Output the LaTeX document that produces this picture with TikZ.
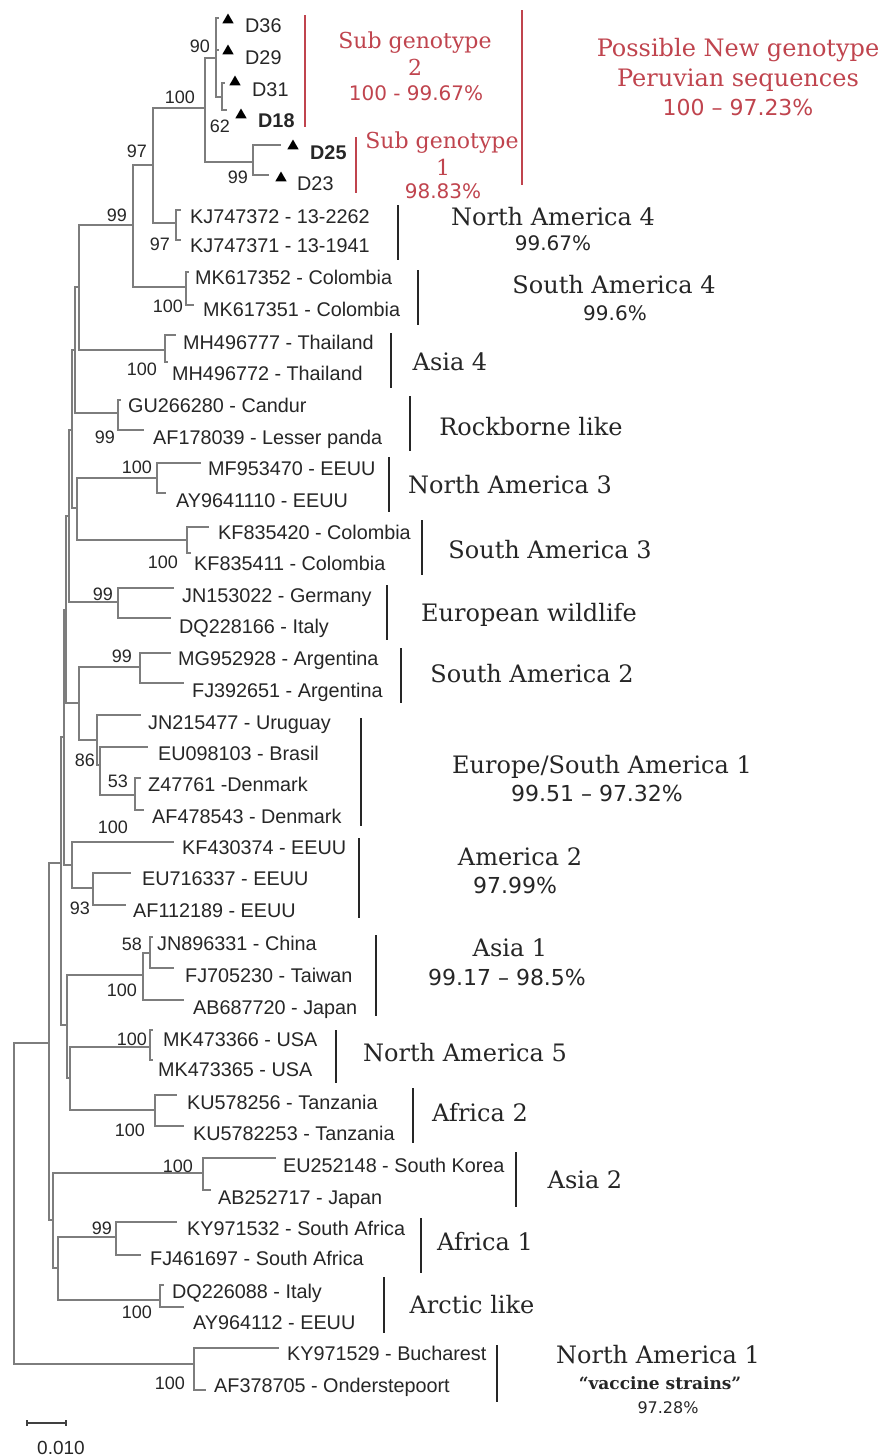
\documentclass[tikz,border=0pt]{standalone}
\usepackage{fontspec}
\setmainfont{Liberation Sans}
\newfontfamily\clfont{DejaVu Serif}
\newfontfamily\pcfont{DejaVu Sans}
\usetikzlibrary{shapes.geometric}
\definecolor{treegray}{RGB}{125,125,125}
\definecolor{subred}{RGB}{192,68,78}
\begin{document}
\begin{tikzpicture}[x=1pt,y=-1pt,
 tree/.style={draw=treegray, line width=1.6pt, line cap=rect},
 cbar/.style={draw=black!85, line width=2.6pt},
 redbar/.style={draw=subred, line width=2.6pt},
 tiplab/.style={anchor=west, inner sep=0pt, text=black!85, font=\fontsize{19.8}{22}\selectfont, text height=14pt, text depth=0pt},
 boot/.style={anchor=east, inner sep=0pt, text=black!85, font=\fontsize{18}{20}\selectfont, text height=13pt, text depth=0pt},
 clade/.style={inner sep=0pt, text=black!85, font=\clfont\fontsize{24}{28}\selectfont, text height=17.5pt, text depth=0pt},
 pct/.style={inner sep=0pt, text=black!85, font=\pcfont\fontsize{22}{26}\selectfont, text height=16pt, text depth=0pt},
 redclade/.style={clade, text=subred, font=\clfont\fontsize{22}{26}\selectfont, text height=16pt},
 redpct/.style={pct, text=subred, font=\pcfont\fontsize{20}{24}\selectfont, text height=14.5pt},
 tri/.style={regular polygon, regular polygon sides=3, fill=black, inner sep=0pt, minimum size=13pt},
]
\useasboundingbox[fill=white] (0,0) rectangle (883,1456);

% ---------- internal nodes ----------
\coordinate (R) at (14,1200);
\coordinate (A) at (49,1043);
\coordinate (U) at (61,863);
\coordinate (G4) at (64,737);
\coordinate (G3) at (66,610);
\coordinate (G2) at (69,516);
\coordinate (G1) at (72,430);
\coordinate (F) at (75,350);
\coordinate (E) at (79,287);
\coordinate (T1) at (133,225);
\coordinate (T2) at (153,165);
\coordinate (N100) at (205,108);
\coordinate (N90) at (216,58);
\coordinate (N62) at (222,97);
\coordinate (N99b) at (253,162);
\coordinate (KJ) at (176,223);
\coordinate (MK) at (186,287);
\coordinate (MH) at (165,350);
\coordinate (Rock) at (118,413);
\coordinate (NS3) at (77,508);
\coordinate (NA3) at (157,478);
\coordinate (SA3) at (187,540);
\coordinate (EW) at (118,602);
\coordinate (Gn) at (79,703);
\coordinate (SA2) at (140,667);
\coordinate (E1) at (97,740);
\coordinate (E2) at (100,765);
\coordinate (Zn) at (135,795);
\coordinate (D) at (72,865);
\coordinate (D2) at (93,888);
\coordinate (B) at (67,1025);
\coordinate (As1) at (143,975);
\coordinate (N58) at (150,953);
\coordinate (B1) at (70,1078);
\coordinate (NA5) at (150,1047);
\coordinate (Af2) at (155,1110);
\coordinate (L) at (53,1220);
\coordinate (As2) at (203,1173);
\coordinate (AA) at (58,1268);
\coordinate (Af1) at (116,1237);
\coordinate (Arc) at (160,1300);
\coordinate (NA1n) at (194,1364);

% ---------- tips ----------
\coordinate (tD36) at (218,18);
\coordinate (tD29) at (218,50);
\coordinate (tD31) at (224,83);
\coordinate (tD18) at (226,110);
\coordinate (tD25) at (280,145);
\coordinate (tD23) at (268,175);
\coordinate (tKJa) at (180,210);
\coordinate (tKJb) at (180,240);
\coordinate (tMKa) at (188,272);
\coordinate (tMKb) at (193,305);
\coordinate (tMHa) at (175,335);
\coordinate (tMHb) at (167,362);
\coordinate (tGU) at (120,400);
\coordinate (tAF17) at (143,430);
\coordinate (tMF) at (200,463);
\coordinate (tAY96) at (165,493);
\coordinate (tKF42) at (208,527);
\coordinate (tKF41) at (190,553);
\coordinate (tJN15) at (173,588);
\coordinate (tDQ22) at (170,618);
\coordinate (tMG) at (170,653);
\coordinate (tFJ39) at (183,683);
\coordinate (tJN21) at (140,715);
\coordinate (tEU09) at (147,747);
\coordinate (tZ47) at (140,778);
\coordinate (tAF47) at (143,810);
\coordinate (tKF43) at (173,842);
\coordinate (tEU71) at (130,873);
\coordinate (tAF11) at (125,905);
\coordinate (tJN89) at (152,937);
\coordinate (tFJ70) at (173,968);
\coordinate (tAB68) at (183,1000);
\coordinate (tMK4a) at (152,1030);
\coordinate (tMK4b) at (152,1060);
\coordinate (tKUa) at (176,1095);
\coordinate (tKUb) at (183,1126);
\coordinate (tEU25) at (275,1158);
\coordinate (tAB25) at (210,1190);
\coordinate (tKY53) at (176,1222);
\coordinate (tFJ46) at (140,1255);
\coordinate (tDQ26) at (163,1285);
\coordinate (tAY64) at (183,1307);
\coordinate (tKY29) at (278,1348);
\coordinate (tAF37) at (205,1390);

% ---------- branches ----------
\foreach \p/\c in {R/A, R/NA1n, A/U, A/L, U/G4, U/B, G4/G3, G4/D, G3/G2, G3/Gn,
  G2/G1, G2/EW, G1/F, G1/NS3, F/E, F/Rock, E/T1, E/MH, T1/T2, T1/MK,
  T2/N100, T2/KJ, N100/N90, N100/N99b, N90/tD36, N90/tD29, N90/N62,
  N62/tD31, N62/tD18, N99b/tD25, N99b/tD23, KJ/tKJa, KJ/tKJb, MK/tMKa, MK/tMKb,
  MH/tMHa, MH/tMHb, Rock/tGU, Rock/tAF17, NS3/NA3, NS3/SA3, NA3/tMF, NA3/tAY96,
  SA3/tKF42, SA3/tKF41, EW/tJN15, EW/tDQ22, Gn/SA2, Gn/E1, SA2/tMG, SA2/tFJ39,
  E1/tJN21, E1/E2, E2/tEU09, E2/Zn, Zn/tZ47, Zn/tAF47, D/tKF43, D/D2, D2/tEU71, D2/tAF11,
  B/As1, B/B1, As1/N58, As1/tAB68, N58/tJN89, N58/tFJ70, B1/NA5, B1/Af2,
  NA5/tMK4a, NA5/tMK4b, Af2/tKUa, Af2/tKUb, L/As2, L/AA, As2/tEU25, As2/tAB25,
  AA/Af1, AA/Arc, Af1/tKY53, Af1/tFJ46, Arc/tDQ26, Arc/tAY64, NA1n/tKY29, NA1n/tAF37}
  \draw[tree] (\p) |- (\c);

% ---------- markers ----------
\node[tri] (mD36) at (228,20) {};
\node[tri] (mD29) at (228,51) {};
\node[tri] (mD31) at (235,82) {};
\node[tri] (mD18) at (241,115) {};
\node[tri] (mD25) at (293,146) {};
\node[tri] (mD23) at (281,178) {};

% ---------- tip labels ----------
\node[tiplab] (lD36) at (245,25) {D36};
\node[tiplab] (lD29) at (245,57) {D29};
\node[tiplab] (lD31) at (252,89) {D31};
\node[tiplab, font=\bfseries\fontsize{19.8}{22}\selectfont] (lD18) at (258,120) {D18};
\node[tiplab, font=\bfseries\fontsize{19.8}{22}\selectfont] (lD25) at (310,152) {D25};
\node[tiplab] (lD23) at (297,183) {D23};
\node[tiplab] (lKJa) at (190,216) {KJ747372 - 13-2262};
\node[tiplab] (lKJb) at (190,245) {KJ747371 - 13-1941};
\node[tiplab] (lMKa) at (195,277) {MK617352 - Colombia};
\node[tiplab] (lMKb) at (203,309) {MK617351 - Colombia};
\node[tiplab] (lMHa) at (183,342) {MH496777 - Thailand};
\node[tiplab] (lMHb) at (172,373) {MH496772 - Thailand};
\node[tiplab] (lGU) at (128,405) {GU266280 - Candur};
\node[tiplab] (lAF17) at (153,437) {AF178039 - Lesser panda};
\node[tiplab] (lMF) at (208,468) {MF953470 - EEUU};
\node[tiplab] (lAY96) at (176,500) {AY9641110 - EEUU};
\node[tiplab] (lKF42) at (218,532) {KF835420 - Colombia};
\node[tiplab] (lKF41) at (194,563) {KF835411 - Colombia};
\node[tiplab] (lJN15) at (182,595) {JN153022 - Germany};
\node[tiplab] (lDQ22) at (179,626) {DQ228166 - Italy};
\node[tiplab] (lMG) at (178,658) {MG952928 - Argentina};
\node[tiplab] (lFJ39) at (192,690) {FJ392651 - Argentina};
\node[tiplab] (lJN21) at (148,722) {JN215477 - Uruguay};
\node[tiplab] (lEU09) at (158,753) {EU098103 - Brasil};
\node[tiplab] (lZ47) at (148,784) {Z47761 -Denmark};
\node[tiplab] (lAF47) at (152,816) {AF478543 - Denmark};
\node[tiplab] (lKF43) at (182,847) {KF430374 - EEUU};
\node[tiplab] (lEU71) at (142,878) {EU716337 - EEUU};
\node[tiplab] (lAF11) at (133,910) {AF112189 - EEUU};
\node[tiplab] (lJN89) at (157,943) {JN896331 - China};
\node[tiplab] (lFJ70) at (185,975) {FJ705230 - Taiwan};
\node[tiplab] (lAB68) at (193,1007) {AB687720 - Japan};
\node[tiplab] (lMK4a) at (163,1039) {MK473366 - USA};
\node[tiplab] (lMK4b) at (158,1069) {MK473365 - USA};
\node[tiplab] (lKUa) at (187,1102) {KU578256 - Tanzania};
\node[tiplab] (lKUb) at (193,1133) {KU5782253 - Tanzania};
\node[tiplab] (lEU25) at (283,1165) {EU252148 - South Korea};
\node[tiplab] (lAB25) at (218,1197) {AB252717 - Japan};
\node[tiplab] (lKY53) at (187,1228) {KY971532 - South Africa};
\node[tiplab] (lFJ46) at (150,1258) {FJ461697 - South Africa};
\node[tiplab] (lDQ26) at (172,1291) {DQ226088 - Italy};
\node[tiplab] (lAY64) at (193,1322) {AY964112 - EEUU};
\node[tiplab] (lKY29) at (287,1353) {KY971529 - Bucharest};
\node[tiplab] (lAF37) at (214,1385) {AF378705 - Onderstepoort};

% ---------- bootstrap values ----------
\node[boot] (b90) at (210,46) {90};
\node[boot] (b100a) at (195,97) {100};
\node[boot] (b62) at (230,126) {62};
\node[boot] (b97a) at (147,151) {97};
\node[boot] (b99a) at (248,177) {99};
\node[boot] (b99b) at (127,215) {99};
\node[boot] (b97b) at (170,244) {97};
\node[boot] (b100b) at (183,306) {100};
\node[boot] (b100c) at (157,369) {100};
\node[boot] (b99c) at (115,437) {99};
\node[boot] (b100d) at (152,467) {100};
\node[boot] (b100e) at (178,562) {100};
\node[boot] (b99d) at (113,594) {99};
\node[boot] (b99e) at (132,656) {99};
\node[boot] (b86) at (95,760) {86};
\node[boot] (b53) at (128,781) {53};
\node[boot] (b100f) at (128,827) {100};
\node[boot] (b93) at (90,908) {93};
\node[boot] (b58) at (142,944) {58};
\node[boot] (b100g) at (137,990) {100};
\node[boot] (b100h) at (147,1039) {100};
\node[boot] (b100i) at (145,1130) {100};
\node[boot] (b100j) at (193,1166) {100};
\node[boot] (b99f) at (112,1228) {99};
\node[boot] (b100k) at (152,1312) {100};
\node[boot] (b100l) at (185,1383) {100};

% ---------- red brackets and labels ----------
\draw[redbar] (305,15) coordinate (sg2t) -- (305,127) coordinate (sg2b);
\draw[redbar] (356,137) coordinate (sg1t) -- (356,193) coordinate (sg1b);
\draw[redbar] (522,10) coordinate (pngt) -- (522,185) coordinate (pngb);
\node[redclade] (sg2a) at (415,40) {Sub genotype};
\node[redclade] (sg2b2) at (415,67) {2};
\node[redpct] (sg2c) at (416,93) {100 - 99.67\%};
\node[redclade] (sg1a) at (442,140) {Sub genotype};
\node[redclade] (sg1b2) at (443,167) {1};
\node[redpct] (sg1c) at (443,191) {98.83\%};
\node[redclade, font=\clfont\fontsize{24}{28}\selectfont, text height=17.5pt] (pnga) at (738,48) {Possible New genotype};
\node[redclade, font=\clfont\fontsize{24}{28}\selectfont, text height=17.5pt] (pngb2) at (738,78) {Peruvian sequences};
\node[redpct, font=\pcfont\fontsize{22}{26}\selectfont, text height=16pt] (pngc) at (738,107) {100 – 97.23\%};

% ---------- black brackets ----------
\draw[cbar] (398,205) coordinate (na4t) -- (398,260) coordinate (na4b);
\draw[cbar] (418,270) coordinate (sa4t) -- (418,325) coordinate (sa4b);
\draw[cbar] (391,333) coordinate (as4t) -- (391,388) coordinate (as4b);
\draw[cbar] (410,396) coordinate (rbt) -- (410,451) coordinate (rbb);
\draw[cbar] (389,457) coordinate (na3t) -- (389,512) coordinate (na3b);
\draw[cbar] (422,520) coordinate (sa3t) -- (422,575) coordinate (sa3b);
\draw[cbar] (387,585) coordinate (ewt) -- (387,640) coordinate (ewb);
\draw[cbar] (401,648) coordinate (sa2t) -- (401,703) coordinate (sa2b);
\draw[cbar] (361,718) coordinate (esat) -- (361,826) coordinate (esab);
\draw[cbar] (359,838) coordinate (am2t) -- (359,918) coordinate (am2b);
\draw[cbar] (376,935) coordinate (as1t) -- (376,1016) coordinate (as1b);
\draw[cbar] (336,1030) coordinate (na5t) -- (336,1083) coordinate (na5b);
\draw[cbar] (413,1088) coordinate (af2t) -- (413,1143) coordinate (af2b);
\draw[cbar] (516,1152) coordinate (as2t) -- (516,1207) coordinate (as2b);
\draw[cbar] (421,1218) coordinate (af1t) -- (421,1273) coordinate (af1b);
\draw[cbar] (384,1277) coordinate (arct) -- (384,1333) coordinate (arcb);
\draw[cbar] (497,1345) coordinate (na1t) -- (497,1402) coordinate (na1b);

% ---------- clade labels ----------
\node[clade] (cNA4) at (553,217) {North America 4};
\node[pct, font=\pcfont\fontsize{20}{24}\selectfont, text height=14.5pt] (pNA4) at (553,243) {99.67\%};
\node[clade] (cSA4) at (614,285) {South America 4};
\node[pct, font=\pcfont\fontsize{20}{24}\selectfont, text height=14.5pt] (pSA4) at (615,313) {99.6\%};
\node[clade] (cAs4) at (450,362) {Asia 4};
\node[clade] (cRock) at (531,427) {Rockborne like};
\node[clade] (cNA3) at (510,485) {North America 3};
\node[clade] (cSA3) at (550,550) {South America 3};
\node[clade] (cEW) at (529,613) {European wildlife};
\node[clade] (cSA2) at (532,674) {South America 2};
\node[clade] (cESA) at (602,765) {Europe/South America 1};
\node[pct] (pESA) at (597,793) {99.51 – 97.32\%};
\node[clade] (cAm2) at (520,857) {America 2};
\node[pct] (pAm2) at (515,885) {97.99\%};
\node[clade] (cAs1) at (510,948) {Asia 1};
\node[pct] (pAs1) at (507,977) {99.17 – 98.5\%};
\node[clade] (cNA5) at (465,1053) {North America 5};
\node[clade] (cAf2) at (480,1113) {Africa 2};
\node[clade] (cAs2) at (585,1180) {Asia 2};
\node[clade] (cAf1) at (485,1242) {Africa 1};
\node[clade] (cArc) at (472,1305) {Arctic like};
\node[clade] (cNA1) at (658,1355) {North America 1};
\node[clade, font=\clfont\bfseries\fontsize{17}{20}\selectfont, text height=12.5pt] (vac) at (660,1383) {“vaccine strains”};
\node[pct, font=\pcfont\fontsize{16}{19}\selectfont, text height=11.7pt] (pNA1) at (668,1408) {97.28\%};

% ---------- scale bar ----------
\coordinate (sbL) at (27,1423);
\coordinate (sbR) at (66,1423);
\draw[draw=black!75, line width=1.3pt] (sbL) -- (sbR);
\draw[draw=black!75, line width=1.3pt] ([yshift=3pt]sbL) -- ([yshift=-3pt]sbL);
\draw[draw=black!75, line width=1.3pt] ([yshift=3pt]sbR) -- ([yshift=-3pt]sbR);
\node[tiplab, font=\fontsize{19}{22}\selectfont] (sbt) at (37,1447) {0.010};
\end{tikzpicture}
\end{document}
